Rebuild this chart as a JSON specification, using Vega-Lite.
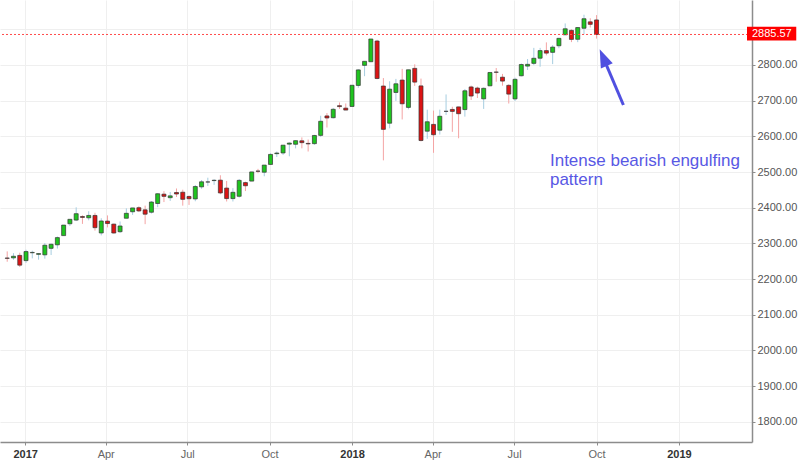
{
  "$schema": "https://vega.github.io/schema/vega-lite/v6.json",
  "width": 752,
  "height": 442,
  "autosize": {"type": "none"},
  "padding": {"left": 0, "top": 0, "right": 48, "bottom": 19},
  "background": "white",
  "config": {"view": {"stroke": null}, "font": "Liberation Sans"},
  "datasets": {
    "candles": [
      {"d":"2016-12-12","o":2258.83,"h":2277.53,"l":2248.44,"c":2258.07},
      {"d":"2016-12-19","o":2259.24,"h":2272.56,"l":2253.84,"c":2263.79},
      {"d":"2016-12-26","o":2266.23,"h":2273.82,"l":2233.62,"c":2238.83},
      {"d":"2017-01-02","o":2251.57,"h":2282.10,"l":2245.13,"c":2276.98},
      {"d":"2017-01-09","o":2273.59,"h":2279.27,"l":2257.83,"c":2274.64},
      {"d":"2017-01-16","o":2269.14,"h":2272.08,"l":2254.25,"c":2271.31},
      {"d":"2017-01-23","o":2267.78,"h":2300.99,"l":2257.02,"c":2294.69},
      {"d":"2017-01-30","o":2286.01,"h":2299.55,"l":2267.21,"c":2297.42},
      {"d":"2017-02-06","o":2295.87,"h":2319.23,"l":2285.38,"c":2316.10},
      {"d":"2017-02-13","o":2321.72,"h":2351.31,"l":2321.72,"c":2351.16},
      {"d":"2017-02-20","o":2354.91,"h":2367.79,"l":2348.70,"c":2367.34},
      {"d":"2017-02-27","o":2365.23,"h":2400.98,"l":2362.42,"c":2383.12},
      {"d":"2017-03-06","o":2375.23,"h":2378.80,"l":2354.54,"c":2372.60},
      {"d":"2017-03-13","o":2371.56,"h":2390.01,"l":2364.55,"c":2378.25},
      {"d":"2017-03-20","o":2378.24,"h":2385.71,"l":2335.58,"c":2343.98},
      {"d":"2017-03-27","o":2329.11,"h":2370.35,"l":2322.25,"c":2362.72},
      {"d":"2017-04-03","o":2362.34,"h":2378.36,"l":2344.73,"c":2355.54},
      {"d":"2017-04-10","o":2353.92,"h":2355.22,"l":2327.50,"c":2328.95},
      {"d":"2017-04-17","o":2332.62,"h":2361.37,"l":2328.95,"c":2348.69},
      {"d":"2017-04-24","o":2370.33,"h":2398.16,"l":2370.33,"c":2384.20},
      {"d":"2017-05-01","o":2388.50,"h":2399.29,"l":2379.75,"c":2399.29},
      {"d":"2017-05-08","o":2399.94,"h":2403.87,"l":2387.73,"c":2390.90},
      {"d":"2017-05-15","o":2393.98,"h":2405.77,"l":2353.81,"c":2381.73},
      {"d":"2017-05-22","o":2387.21,"h":2418.71,"l":2383.50,"c":2415.82},
      {"d":"2017-05-29","o":2411.67,"h":2440.23,"l":2401.36,"c":2439.07},
      {"d":"2017-06-05","o":2437.83,"h":2446.20,"l":2415.70,"c":2431.77},
      {"d":"2017-06-12","o":2428.00,"h":2444.00,"l":2419.00,"c":2433.15},
      {"d":"2017-06-19","o":2442.55,"h":2453.82,"l":2430.00,"c":2438.30},
      {"d":"2017-06-26","o":2443.32,"h":2450.42,"l":2405.70,"c":2423.41},
      {"d":"2017-07-03","o":2431.39,"h":2434.30,"l":2407.70,"c":2425.18},
      {"d":"2017-07-10","o":2424.51,"h":2463.54,"l":2418.00,"c":2459.27},
      {"d":"2017-07-17","o":2458.35,"h":2477.62,"l":2453.00,"c":2472.54},
      {"d":"2017-07-24","o":2472.04,"h":2484.04,"l":2461.00,"c":2472.10},
      {"d":"2017-07-31","o":2475.94,"h":2480.00,"l":2464.00,"c":2476.83},
      {"d":"2017-08-07","o":2477.14,"h":2490.87,"l":2437.75,"c":2441.32},
      {"d":"2017-08-14","o":2454.96,"h":2474.93,"l":2417.35,"c":2425.55},
      {"d":"2017-08-21","o":2425.50,"h":2454.77,"l":2417.35,"c":2443.05},
      {"d":"2017-08-28","o":2431.94,"h":2480.38,"l":2428.20,"c":2476.55},
      {"d":"2017-09-04","o":2470.35,"h":2473.00,"l":2446.55,"c":2461.43},
      {"d":"2017-09-11","o":2474.52,"h":2500.23,"l":2474.52,"c":2500.23},
      {"d":"2017-09-18","o":2502.51,"h":2508.85,"l":2496.67,"c":2502.22},
      {"d":"2017-09-25","o":2499.39,"h":2519.44,"l":2488.03,"c":2519.36},
      {"d":"2017-10-02","o":2521.20,"h":2552.51,"l":2520.40,"c":2549.33},
      {"d":"2017-10-09","o":2551.39,"h":2557.45,"l":2542.00,"c":2553.17},
      {"d":"2017-10-16","o":2553.39,"h":2575.44,"l":2547.92,"c":2575.21},
      {"d":"2017-10-23","o":2578.08,"h":2582.98,"l":2544.00,"c":2581.07},
      {"d":"2017-10-30","o":2577.75,"h":2588.42,"l":2566.20,"c":2587.84},
      {"d":"2017-11-06","o":2587.47,"h":2597.02,"l":2566.33,"c":2582.30},
      {"d":"2017-11-13","o":2580.18,"h":2591.00,"l":2557.45,"c":2578.85},
      {"d":"2017-11-20","o":2579.49,"h":2604.21,"l":2576.00,"c":2602.42},
      {"d":"2017-11-27","o":2602.66,"h":2657.74,"l":2598.00,"c":2642.22},
      {"d":"2017-12-04","o":2657.19,"h":2665.19,"l":2624.75,"c":2651.50},
      {"d":"2017-12-11","o":2652.19,"h":2679.63,"l":2650.00,"c":2675.81},
      {"d":"2017-12-18","o":2685.92,"h":2694.97,"l":2676.80,"c":2683.34},
      {"d":"2017-12-25","o":2679.09,"h":2692.12,"l":2673.61,"c":2673.61},
      {"d":"2018-01-01","o":2683.73,"h":2743.45,"l":2682.36,"c":2743.15},
      {"d":"2018-01-08","o":2742.67,"h":2787.85,"l":2736.06,"c":2786.24},
      {"d":"2018-01-15","o":2798.96,"h":2810.33,"l":2768.64,"c":2810.30},
      {"d":"2018-01-22","o":2809.16,"h":2872.87,"l":2808.12,"c":2872.87},
      {"d":"2018-01-29","o":2867.23,"h":2870.62,"l":2759.97,"c":2762.13},
      {"d":"2018-02-05","o":2741.06,"h":2763.39,"l":2532.69,"c":2619.55},
      {"d":"2018-02-12","o":2636.75,"h":2754.42,"l":2622.45,"c":2732.22},
      {"d":"2018-02-19","o":2722.99,"h":2761.05,"l":2699.00,"c":2747.30},
      {"d":"2018-02-26","o":2757.77,"h":2789.15,"l":2647.32,"c":2691.25},
      {"d":"2018-03-05","o":2681.06,"h":2786.57,"l":2675.75,"c":2786.57},
      {"d":"2018-03-12","o":2790.54,"h":2801.90,"l":2741.38,"c":2752.01},
      {"d":"2018-03-19","o":2741.38,"h":2761.85,"l":2585.89,"c":2588.26},
      {"d":"2018-03-26","o":2614.41,"h":2674.78,"l":2593.06,"c":2640.87},
      {"d":"2018-04-02","o":2633.45,"h":2672.08,"l":2553.80,"c":2604.47},
      {"d":"2018-04-09","o":2617.18,"h":2674.84,"l":2605.00,"c":2656.30},
      {"d":"2018-04-16","o":2670.10,"h":2717.49,"l":2660.00,"c":2670.14},
      {"d":"2018-04-23","o":2675.40,"h":2682.86,"l":2612.67,"c":2669.91},
      {"d":"2018-04-30","o":2682.51,"h":2682.87,"l":2594.62,"c":2663.42},
      {"d":"2018-05-07","o":2675.00,"h":2732.86,"l":2655.20,"c":2727.72},
      {"d":"2018-05-14","o":2738.47,"h":2742.24,"l":2701.91,"c":2712.97},
      {"d":"2018-05-21","o":2735.39,"h":2739.19,"l":2707.38,"c":2721.33},
      {"d":"2018-05-28","o":2705.11,"h":2736.93,"l":2676.81,"c":2734.62},
      {"d":"2018-06-04","o":2741.67,"h":2779.90,"l":2740.54,"c":2779.03},
      {"d":"2018-06-11","o":2780.18,"h":2791.47,"l":2753.00,"c":2779.66},
      {"d":"2018-06-18","o":2765.79,"h":2774.99,"l":2742.00,"c":2754.88},
      {"d":"2018-06-25","o":2742.94,"h":2746.10,"l":2691.99,"c":2718.37},
      {"d":"2018-07-02","o":2704.95,"h":2764.41,"l":2698.95,"c":2759.82},
      {"d":"2018-07-09","o":2769.76,"h":2804.35,"l":2768.00,"c":2801.31},
      {"d":"2018-07-16","o":2796.93,"h":2816.76,"l":2786.00,"c":2801.83},
      {"d":"2018-07-23","o":2804.55,"h":2848.03,"l":2799.50,"c":2818.82},
      {"d":"2018-07-30","o":2819.00,"h":2848.00,"l":2795.14,"c":2840.35},
      {"d":"2018-08-06","o":2840.29,"h":2863.43,"l":2827.00,"c":2833.28},
      {"d":"2018-08-13","o":2835.46,"h":2855.60,"l":2802.49,"c":2850.13},
      {"d":"2018-08-20","o":2853.93,"h":2876.16,"l":2847.00,"c":2874.69},
      {"d":"2018-08-27","o":2884.69,"h":2916.50,"l":2884.00,"c":2901.52},
      {"d":"2018-09-03","o":2896.96,"h":2900.18,"l":2864.12,"c":2871.68},
      {"d":"2018-09-10","o":2872.00,"h":2906.30,"l":2864.00,"c":2904.98},
      {"d":"2018-09-17","o":2903.00,"h":2940.91,"l":2886.00,"c":2929.67},
      {"d":"2018-09-24","o":2921.00,"h":2931.00,"l":2905.00,"c":2913.98},
      {"d":"2018-10-01","o":2926.29,"h":2939.86,"l":2874.02,"c":2885.57}
    ],
    "one": [{}]
  },
  "layer": [
    {
      "data": {"name": "candles"},
      "mark": {"type": "rule", "clip": true, "strokeWidth": 1},
      "encoding": {
        "x": {
          "field": "d", "type": "temporal",
          "scale": {"type": "utc", "nice": false, "domain": [
            {"year": 2016, "month": 12, "date": 9, "hours": 12, "minutes": 43, "utc": true},
            {"year": 2019, "month": 3, "date": 18, "utc": true}
          ]},
          "axis": {
            "orient": "bottom", "title": null,
            "values": [
              {"year": 2017, "month": 1, "date": 1, "utc": true},
              {"year": 2017, "month": 4, "date": 1, "utc": true},
              {"year": 2017, "month": 7, "date": 1, "utc": true},
              {"year": 2017, "month": 10, "date": 1, "utc": true},
              {"year": 2018, "month": 1, "date": 1, "utc": true},
              {"year": 2018, "month": 4, "date": 1, "utc": true},
              {"year": 2018, "month": 7, "date": 1, "utc": true},
              {"year": 2018, "month": 10, "date": 1, "utc": true},
              {"year": 2019, "month": 1, "date": 1, "utc": true}
            ],
            "labelExpr": "utcmonth(datum.value) === 0 ? utcFormat(datum.value, '%Y') : utcFormat(datum.value, '%b')",
            "labelFontWeight": {"condition": {"test": "utcmonth(datum.value) === 0", "value": "bold"}, "value": "normal"},
            "labelColor": {"condition": {"test": "utcmonth(datum.value) === 0", "value": "#333333"}, "value": "#666666"},
            "labelFontSize": 11,
            "labelFont": "Liberation Sans",
            "labelPadding": 3,
            "labelFlush": false,
            "labelOverlap": false,
            "tickSize": 3,
            "tickColor": "#8c8c8c",
            "domainColor": "#8c8c8c",
            "domainWidth": 1.5,
            "grid": true,
            "gridColor": "#efefef"
          }
        },
        "y": {
          "field": "l", "type": "quantitative",
          "scale": {"domain": [1743.1, 2982.2], "nice": false, "zero": false},
          "axis": {
            "orient": "right", "title": null,
            "values": [1800, 1900, 2000, 2100, 2200, 2300, 2400, 2500, 2600, 2700, 2800, 2900],
            "labelExpr": "datum.value >= 2850 ? '' : format(datum.value, '.2f')",
            "labelFontSize": 11,
            "labelFont": "Liberation Sans",
            "labelColor": "#555555",
            "labelPadding": 2,
            "tickSize": 3,
            "tickColor": "#8c8c8c",
            "domainColor": "#8c8c8c",
            "domainWidth": 1.5,
            "grid": true,
            "gridColor": "#efefef"
          }
        },
        "y2": {"field": "h"},
        "color": {"condition": {"test": "datum.c >= datum.o", "value": "#a6cde0"}, "value": "#f4a4a4"}
      }
    },
    {
      "data": {"name": "candles"},
      "mark": {"type": "bar", "clip": true, "size": 4, "stroke": "#333333", "strokeWidth": 0.7},
      "encoding": {
        "x": {"field": "d", "type": "temporal"},
        "y": {"field": "o", "type": "quantitative"},
        "y2": {"field": "c"},
        "color": {"condition": {"test": "datum.c >= datum.o", "value": "#1fc41f"}, "value": "#dc1414"}
      }
    },
    {
      "data": {"name": "one"},
      "mark": {"type": "rule", "strokeWidth": 1, "strokeDash": [2, 2]},
      "encoding": {
        "y": {"datum": 2885.57, "type": "quantitative"},
        "color": {"value": "#ff4a4a"}
      }
    },
    {
      "data": {"name": "one"},
      "mark": {"type": "rect", "fill": "#ff0000"},
      "encoding": {
        "x": {"datum": {"year": 2019, "month": 3, "date": 18, "utc": true}, "type": "temporal"},
        "x2": {"datum": {"year": 2019, "month": 5, "date": 12, "utc": true}},
        "y": {"datum": 2907.4, "type": "quantitative"},
        "y2": {"datum": 2868.7}
      }
    },
    {
      "data": {"name": "one"},
      "mark": {"type": "text", "color": "#ffffff", "fontSize": 11, "font": "Liberation Sans", "align": "left", "baseline": "middle"},
      "encoding": {
        "x": {"datum": {"year": 2019, "month": 3, "date": 23, "hours": 12, "utc": true}, "type": "temporal"},
        "y": {"datum": 2885.57, "type": "quantitative"},
        "text": {"value": "2885.57"}
      }
    },
    {
      "data": {"name": "one"},
      "mark": {"type": "rule", "stroke": "#5050e0", "strokeWidth": 3},
      "encoding": {
        "x": {"datum": {"year": 2018, "month": 10, "date": 31, "utc": true}, "type": "temporal"},
        "x2": {"datum": {"year": 2018, "month": 10, "date": 8, "hours": 12, "utc": true}},
        "y": {"datum": 2687.9, "type": "quantitative"},
        "y2": {"datum": 2820.7}
      }
    },
    {
      "data": {"name": "one"},
      "mark": {"type": "point", "shape": "M0,-1L-0.72,1L0.72,1Z", "filled": true, "size": 324, "angle": 336.7, "color": "#5050e0", "opacity": 1},
      "encoding": {
        "x": {"datum": {"year": 2018, "month": 10, "date": 8, "hours": 12, "utc": true}, "type": "temporal"},
        "y": {"datum": 2820.7, "type": "quantitative"}
      }
    },
    {
      "data": {"name": "one"},
      "mark": {"type": "text", "color": "#5858e4", "fontSize": 17, "font": "Liberation Sans", "align": "left", "baseline": "alphabetic", "lineHeight": 19},
      "encoding": {
        "x": {"datum": {"year": 2018, "month": 8, "date": 10, "utc": true}, "type": "temporal"},
        "y": {"datum": 2516.8, "type": "quantitative"},
        "text": {"value": ["Intense bearish engulfing", "pattern"]}
      }
    }
  ]
}
